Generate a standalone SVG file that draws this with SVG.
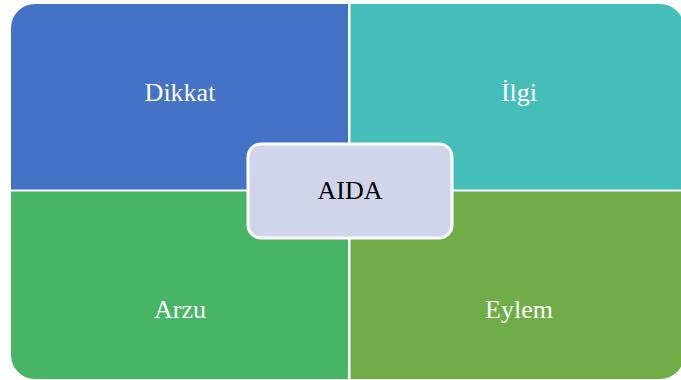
<svg xmlns="http://www.w3.org/2000/svg" width="681" height="380" viewBox="0 0 681 380">
  <style>
    .lbl { font-family: "Liberation Serif", "Times New Roman", serif; font-size: 26px; fill: #ffffff; text-anchor: middle; }
    .core { font-family: "Liberation Serif", "Times New Roman", serif; font-size: 26px; fill: #000000; text-anchor: middle; }
  </style>
  <rect width="681" height="380" fill="#ffffff"/>
  <g id="connectors"/>
  <!-- four quadrants, only the outer corner of each is rounded -->
  <g id="dikkat">
    <path d="M11,28 A24,24 0 0 1 35,4 L348,4 L348,189.5 L11,189.5 Z" fill="#4472C4"/>
    <text class="lbl" x="180" y="101">Dikkat</text>
  </g>
  <g id="ilgi">
    <path d="M350.5,4 L660,4 A24,24 0 0 1 684,28 L684,189.5 L350.5,189.5 Z" fill="#45BDB8"/>
    <text class="lbl" x="519" y="101">İlgi</text>
  </g>
  <g id="arzu">
    <path d="M11,191.5 L348,191.5 L348,379 L35,379 A24,24 0 0 1 11,355 Z" fill="#48B465"/>
    <text class="lbl" x="180" y="318">Arzu</text>
  </g>
  <g id="eylem">
    <path d="M350.5,191.5 L684,191.5 L684,355 A24,24 0 0 1 660,379 L350.5,379 Z" fill="#70AD47"/>
    <text class="lbl" x="519" y="318">Eylem</text>
  </g>
  <!-- central hub -->
  <g id="aida">
    <rect x="248" y="144" width="204" height="94" rx="13" ry="13" fill="#D0D5EA" stroke="#ffffff" stroke-width="3"/>
    <text class="core" x="350" y="199">AIDA</text>
  </g>
</svg>
